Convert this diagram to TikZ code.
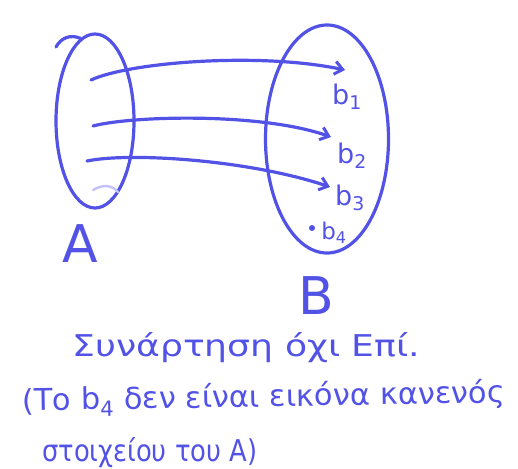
\documentclass[tikz,border=0pt]{standalone}
\usepackage{fontspec}
\setmainfont{DejaVu Sans}
\usetikzlibrary{arrows.meta,shapes.geometric}
\definecolor{ink}{RGB}{82,82,230}
\tikzset{
  pen/.style={draw=ink, line width=3.2pt, line cap=round, line join=round},
  maparrow/.style={pen, -{Straight Barb[length=8pt,width=13pt,line width=3pt]}},
  lbl/.style={text=ink, inner sep=0pt, font=\fontsize{27}{30}\selectfont},
  big/.style={text=ink, inner sep=0pt, font=\fontsize{52}{56}\selectfont},
  note/.style={text=ink, inner sep=0pt, anchor=base west, font=\fontsize{30}{34}\selectfont}
}
\begin{document}
\begin{tikzpicture}[x=1pt,y=-1pt]
\useasboundingbox (0,0) rectangle (518,468);
% sets
\node[pen, ellipse, minimum width=78pt, minimum height=174pt, inner sep=0pt] (setA) at (95,121) {};
\node[pen, ellipse, minimum width=123pt, minimum height=228pt, inner sep=0pt] (setB) at (327,139) {};
\draw[pen] (56,47) .. controls (61,38) and (70,34) .. (setA.100);
\draw[draw=ink!35, line width=2.4pt, line cap=round] (93,190) .. controls (103,184) and (112,185) .. (118,192);
% labels of sets
\node[big] (labA) at (80,244) {A};
\node[big] (labB) at (316,296) {B};
% points
\coordinate (a1) at (91,80);
\coordinate (a2) at (93,126);
\coordinate (a3) at (87,161);
\coordinate (p1) at (345,70);
\coordinate (p2) at (331,137);
\coordinate (p3) at (330,187);
\fill[ink] (312,228) circle (3pt) coordinate (p4);
\node[lbl] (b1) at (347,97) {b\textsubscript{1}};
\node[lbl] (b2) at (352,156) {b\textsubscript{2}};
\node[lbl] (b3) at (350,198) {b\textsubscript{3}};
\node[lbl, font=\fontsize{23}{26}\selectfont] (b4) at (334,233) {b\textsubscript{4}};
% arrows
\draw[maparrow] (a1) .. controls (130,62) and (260,52) .. (p1);
\draw[maparrow] (a2) .. controls (130,116) and (260,112) .. (p2);
\draw[maparrow] (a3) .. controls (130,152) and (250,160) .. (p3);
% note
\node[note] (n1) at (72,356) {\resizebox{348pt}{\height}{Συνάρτηση όχι Επί.}};
\node[note, rotate=1] (n2) at (22,411) {\resizebox{483pt}{\height}{(Το b\textsubscript{4} δεν είναι εικόνα κανενός}};
\node[note] (n3) at (42,461) {\resizebox{215pt}{\height}{στοιχείου του Α)}};
\end{tikzpicture}
\end{document}
